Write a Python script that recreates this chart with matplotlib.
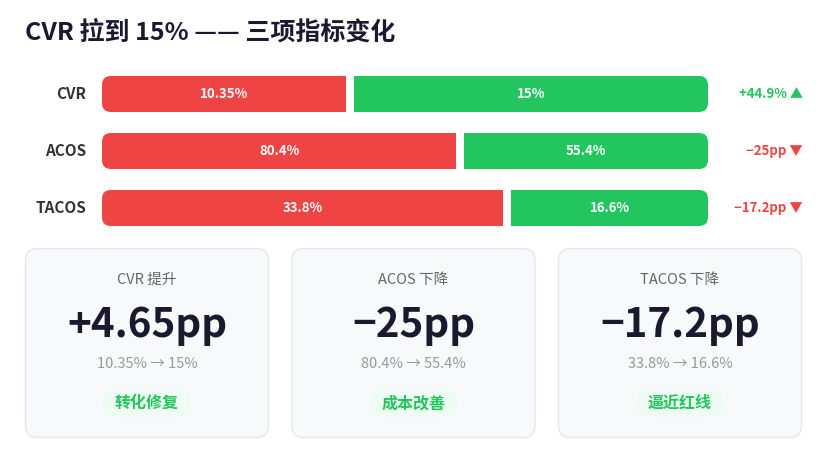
import numpy as np
import matplotlib
matplotlib.use("Agg")
import matplotlib.pyplot as plt
from matplotlib.patches import FancyBboxPatch

plt.rcParams['font.family'] = ['Noto Sans CJK SC', 'DejaVu Sans']

# data
metrics = ["CVR", "ACOS", "TACOS"]
before = np.array([10.35, 80.4, 33.8])
after = np.array([15, 55.4, 16.6])
before_labels = ["10.35%", "80.4%", "33.8%"]
after_labels = ["15%", "55.4%", "16.6%"]
change_labels = ["+44.9% ▲", "−25pp ▼", "−17.2pp ▼"]
change_good = [True, False, False]

card_titles = ["CVR 提升", "ACOS 下降", "TACOS 下降"]
card_values = ["+4.65pp", "−25pp", "−17.2pp"]
card_subs = ["10.35% → 15%", "80.4% → 55.4%", "33.8% → 16.6%"]
card_tags = ["转化修复", "成本改善", "逼近红线"]

RED = "#ef4444"
GREEN = "#22c55e"
DARK = "#1a1a2e"

W, H = 831, 455
fig = plt.figure(figsize=(W / 100, H / 100), dpi=100)
fig.patch.set_facecolor("white")


def px_axes(x, y, w, h):
    return fig.add_axes([x / W, 1 - (y + h) / H, w / W, h / H])


fig.text(25 / W, 1 - 33 / H, "CVR 拉到 15% —— 三项指标变化", fontsize=18,
         fontweight="bold", color=DARK, va="center", ha="left")

# bars (axes units = pixels)
bw, bh = 606, 150
ax = px_axes(102, 76, bw, bh)
ax.set_xlim(0, bw)
ax.set_ylim(bh, 0)
ax.axis("off")

gap = 8
ypos = 18 + 57 * np.arange(len(metrics))
share = before / (before + after)
red_w = share * (bw - gap)
green_left = red_w + gap
green_w = bw - green_left

red_bars = ax.barh(ypos, red_w, height=36, color=RED)
green_bars = ax.barh(ypos, green_w, left=green_left, height=36, color=GREEN)

for i, y in enumerate(ypos):
    clip = FancyBboxPatch((0, y - 18), bw, 36, boxstyle="round,pad=0,rounding_size=9",
                          transform=ax.transData, fc="none", ec="none")
    red_bars[i].set_clip_path(clip)
    green_bars[i].set_clip_path(clip)
    ax.text(red_w[i] / 2, y, before_labels[i], color="white", fontsize=9.5,
            fontweight="bold", ha="center", va="center")
    ax.text(green_left[i] + green_w[i] / 2, y, after_labels[i], color="white",
            fontsize=9.5, fontweight="bold", ha="center", va="center")
    ax.text(-16, y, metrics[i], color="#333333", fontsize=11, fontweight="bold",
            ha="right", va="center", clip_on=False)
    ax.text(bw + 95, y, change_labels[i], color=GREEN if change_good[i] else RED,
            fontsize=9.5, fontweight="bold", ha="right", va="center", clip_on=False)

# cards
cw, ch = 244, 190
for i in range(3):
    cx = px_axes(25 + i * 266.5, 248, cw, ch)
    cx.set_xlim(0, cw)
    cx.set_ylim(ch, 0)
    cx.axis("off")
    cx.add_patch(FancyBboxPatch((0.5, 0.5), cw - 1, ch - 1,
                                boxstyle="round,pad=0,rounding_size=12",
                                fc="#f8f9fb", ec="#e5e7eb", lw=1, clip_on=False))
    mid = cw / 2
    cx.text(mid, 32, card_titles[i], color="#666666", fontsize=10.5,
            ha="center", va="center")
    cx.text(mid, 77, card_values[i], color=DARK, fontsize=29, fontweight="bold",
            ha="center", va="center")
    cx.text(mid, 116, card_subs[i], color="#999999", fontsize=10.5,
            ha="center", va="center")
    cx.add_patch(FancyBboxPatch((mid - 44, 155 - 13.5), 88, 27,
                                boxstyle="round,pad=0,rounding_size=13.5",
                                fc="#effcf3", ec="none"))
    cx.text(mid, 155, card_tags[i], color=GREEN, fontsize=11.5, fontweight="bold",
            ha="center", va="center")

fig.savefig("out.png", dpi=100)
